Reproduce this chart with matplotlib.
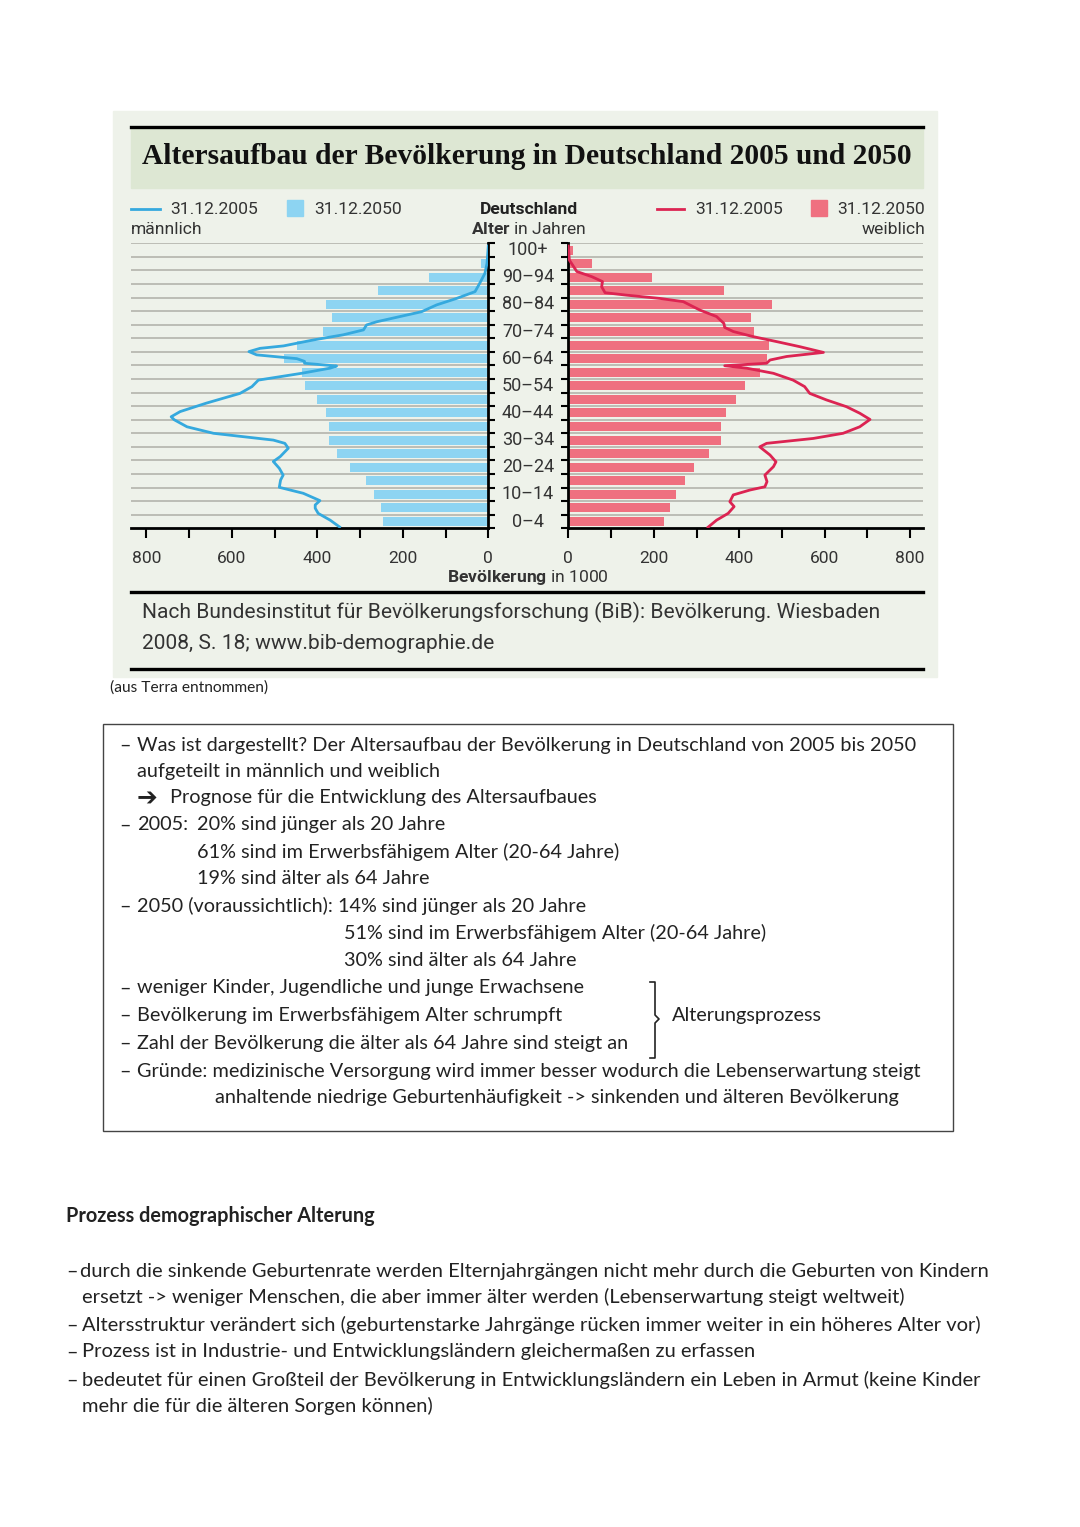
import matplotlib
matplotlib.use("Agg")
import matplotlib.pyplot as plt
from matplotlib import font_manager
from matplotlib.lines import Line2D
from matplotlib.patches import Rectangle

# --- data (population per single year of age, in 1000) ---
age_groups = ["0–4", "5–9", "10–14", "15–19", "20–24", "25–29", "30–34", "35–39",
              "40–44", "45–49", "50–54", "55–59", "60–64", "65–69", "70–74",
              "75–79", "80–84", "85–89", "90–94", "95–99", "100+"]
group_start = [0, 5, 10, 15, 20, 25, 30, 35, 40, 45, 50, 55, 60, 65, 70, 75, 80, 85, 90, 95, 100]
male_2050 = [246, 252, 267, 287, 324, 353, 372, 372, 380, 401, 429, 437, 478, 448,
             386, 365, 380, 259, 139, 18, 2]
female_2050 = [224, 238, 251, 272, 294, 329, 357, 357, 370, 392, 413, 448, 465, 470,
               434, 427, 477, 364, 195, 55, 12]

male_2005_age = [0.5, 3, 5.5, 7.4, 8.6, 10.2, 12.9, 15.1, 17.8, 19.6, 22.1, 24.6, 26.4,
                 29.5, 31.3, 32.5, 35, 37.4, 40, 41.1, 43, 46.1, 49.7, 52.2, 54.6, 57.1,
                 59, 59.8, 60.8, 61.5, 62.5, 63.9, 65.1, 66.3, 67.2, 69.4, 71.3, 73.1,
                 74.9, 76.1, 78, 79.8, 82.3, 84.7, 87.2, 90.3, 93.9, 97.6, 104]
male_2005 = [348, 370, 398, 405, 405, 394, 433, 489, 486, 480, 489, 503, 487,
             468, 476, 503, 643, 705, 735, 742, 721, 660, 581, 553, 538, 437,
             370, 355, 430, 430, 448, 542, 560, 534, 479, 409, 339, 292,
             285, 261, 207, 156, 121, 74, 31, 20, 8, 3, 0]

female_2005_age = [0.4, 3, 5.5, 8, 9.8, 12.3, 14.1, 15.3, 17.2, 19.6, 22.7, 24.5, 27,
                   30, 31.3, 33.1, 35, 37.4, 40.1, 42.4, 44.8, 47.3, 49.7, 52.2, 54.6,
                   57.1, 59, 59.9, 60.8, 62, 63.3, 64.8, 66.9, 68.8, 70.6, 72.5, 74,
                   75.5, 78, 80.4, 83.5, 84.7, 85.9, 86.8, 89, 90.9, 92.7, 94.6, 98.8, 104]
female_2005 = [327, 347, 374, 388, 378, 386, 425, 460, 465, 460, 480, 486, 472,
               448, 464, 573, 643, 682, 706, 682, 651, 604, 565, 553, 526,
               480, 417, 366, 464, 472, 511, 597, 542, 487, 433, 386, 366,
               364, 347, 308, 269, 214, 136, 86, 78, 80, 55, 20, 2.5, 0]

x_ticks = [0, 100, 200, 300, 400, 500, 600, 700, 800]
x_ticklabels = ["0", "", "200", "", "400", "", "600", "", "800"]

box_lines = [
    ("–", "Was ist dargestellt? Der Altersaufbau der Bevölkerung in Deutschland von 2005 bis 2050", 137),
    ("", "aufgeteilt in männlich und weiblich", 137),
    ("", "Prognose für die Entwicklung des Altersaufbaues", 170),
    ("–", "2005:", 137),
    ("", "61% sind im Erwerbsfähigem Alter (20-64 Jahre)", 197),
    ("", "19% sind älter als 64 Jahre", 197),
    ("–", "2050 (voraussichtlich): 14% sind jünger als 20 Jahre", 137),
    ("", "51% sind im Erwerbsfähigem Alter (20-64 Jahre)", 344),
    ("", "30% sind älter als 64 Jahre", 344),
    ("–", "weniger Kinder, Jugendliche und junge Erwachsene", 137),
    ("–", "Bevölkerung im Erwerbsfähigem Alter schrumpft", 137),
    ("–", "Zahl der Bevölkerung die älter als 64 Jahre sind steigt an", 137),
    ("–", "Gründe: medizinische Versorgung wird immer besser wodurch die Lebenserwartung steigt", 137),
    ("", "anhaltende niedrige Geburtenhäufigkeit -> sinkenden und älteren Bevölkerung", 215),
]
box_y = [745, 771, 798, 825, 852, 879, 906, 933, 960, 988, 1015, 1043, 1071, 1097]

bottom_lines = [
    ("–", "durch die sinkende Geburtenrate werden Elternjahrgängen nicht mehr durch die Geburten von Kindern"),
    ("", "ersetzt -> weniger Menschen, die aber immer älter werden (Lebenserwartung steigt weltweit)"),
    ("–", "Altersstruktur verändert sich (geburtenstarke Jahrgänge rücken immer weiter in ein höheres Alter vor)"),
    ("–", "Prozess ist in Industrie- und Entwicklungsländern gleichermaßen zu erfassen"),
    ("–", "bedeutet für einen Großteil der Bevölkerung in Entwicklungsländern ein Leben in Armut (keine Kinder"),
    ("", "mehr die für die älteren Sorgen können)"),
]
bottom_y = [1271, 1297, 1325, 1352, 1380, 1406]

# --- colours / fonts ---
BG = "#eef2ea"
BAND = "#dde7d3"
BLUE_BAR = "#8dd4f2"
BLUE_LINE = "#35a9de"
RED_BAR = "#ef7080"
RED_LINE = "#dc2452"
GRID = "#b8b9b1"
TXT = "#222222"

names = {f.name for f in font_manager.fontManager.ttflist}
NARROW = "Liberation Sans Narrow" if "Liberation Sans Narrow" in names else "Roboto"
BODY = "Lato"
plt.rcParams["mathtext.fontset"] = "custom"
plt.rcParams["mathtext.bf"] = NARROW + ":bold"
plt.rcParams["mathtext.rm"] = NARROW

W, H = 1080, 1527
fig = plt.figure(figsize=(W / 100, H / 100), dpi=100)
fig.patch.set_facecolor("white")
renderer = fig.canvas.get_renderer()


def fx(x):
    return x / W


def fy(y):
    return 1 - y / H


def txt(x, y, s, **kw):
    kw.setdefault("color", TXT)
    return fig.text(fx(x), fy(y), s, **kw)


def fit(t, width):
    w = t.get_window_extent(renderer).width
    t.set_fontsize(t.get_fontsize() * width / w)
    return t.get_fontsize()


def hline(x0, x1, y, lw, color="black"):
    fig.add_artist(Line2D([fx(x0), fx(x1)], [fy(y), fy(y)], lw=lw, color=color,
                          transform=fig.transFigure))


# panel background and title band
fig.add_artist(Rectangle((fx(113), fy(677)), fx(937) - fx(113), fy(111) - fy(677),
                         transform=fig.transFigure, color=BG, zorder=0))
fig.add_artist(Rectangle((fx(131), fy(188)), fx(923) - fx(131), fy(128) - fy(188),
                         transform=fig.transFigure, color=BAND, zorder=0))
hline(131, 923, 127, 2.4)
hline(131, 923, 592, 2.4)
hline(131, 923, 669, 2.4)

t = txt(527, 156, "Altersaufbau der Bevölkerung in Deutschland 2005 und 2050",
        family="Liberation Serif", weight="bold", fontsize=20, ha="center", va="center",
        color="#111111")
fit(t, 771)

# legend
fig.add_artist(Line2D([fx(131), fx(160)], [fy(209), fy(209)], lw=2, color=BLUE_LINE,
                      transform=fig.transFigure))
fig.add_artist(Rectangle((fx(287), fy(216)), fx(16), fx(16) * W / H,
                         transform=fig.transFigure, color=BLUE_BAR))
fig.add_artist(Line2D([fx(657), fx(684)], [fy(209), fy(209)], lw=2, color=RED_LINE,
                      transform=fig.transFigure))
fig.add_artist(Rectangle((fx(811), fy(216)), fx(16), fx(16) * W / H,
                         transform=fig.transFigure, color=RED_BAR))
leg = dict(family=NARROW, fontsize=12.6, va="center", color="#333333")
txt(170, 209, "31.12.2005", **leg)
txt(314, 209, "31.12.2050", **leg)
txt(695, 209, "31.12.2005", **leg)
txt(925, 209, "31.12.2050", ha="right", **leg)
txt(131, 229, "männlich", **leg)
txt(925, 229, "weiblich", ha="right", **leg)
txt(529, 209, "Deutschland", family=NARROW, fontsize=12.6, weight="bold", ha="center",
    va="center", color="#222222")
txt(529, 229, r"$\bf{Alter}$ in Jahren", family=NARROW, fontsize=12.6, ha="center",
    va="center", color="#333333")

# pyramid axes
y_top, y_bot = 243.3, 528.3
axl = fig.add_axes([fx(131), fy(y_bot), fx(488.3) - fx(131), (y_bot - y_top) / H])
axr = fig.add_axes([fx(568.3), fy(y_bot), fx(923) - fx(568.3), (y_bot - y_top) / H])

for ax, bars, line_age, line_val, bc, lc, side in [
        (axl, male_2050, male_2005_age, male_2005, BLUE_BAR, BLUE_LINE, "right"),
        (axr, female_2050, female_2005_age, female_2005, RED_BAR, RED_LINE, "left")]:
    ax.set_facecolor("none")
    ax.hlines(range(5, 106, 5), 0, 900, color=GRID, lw=1.3, zorder=1)
    ax.barh([s + 2.5 for s in group_start], bars, height=3.3, color=bc, zorder=2)
    ax.plot(line_val, line_age, color=lc, lw=2, zorder=3, solid_joinstyle="round")
    ax.set_ylim(0, 105)
    for s in ax.spines.values():
        s.set_visible(False)
    ax.spines["bottom"].set_visible(True)
    ax.spines[side].set_visible(True)
    ax.spines["bottom"].set_linewidth(2)
    ax.spines[side].set_linewidth(2)
    ax.set_xticks(x_ticks)
    ax.set_xticklabels(x_ticklabels, family=NARROW, fontsize=12.5, color="#333333")
    ax.tick_params(axis="x", direction="out", length=7, width=1.5, pad=9)
    ax.set_yticks(range(0, 106, 5))
    ax.set_yticklabels([])
    ax.tick_params(axis="y", direction="out", length=5, width=1.5)
    if side == "right":
        ax.yaxis.tick_right()
    else:
        ax.yaxis.tick_left()

axl.set_xlim(836, 0)
axr.set_xlim(0, 830)

# age labels in the middle
for i in range(0, 21, 2):
    y = y_bot - (group_start[i] + 2.5) * (y_bot - y_top) / 105
    txt(528, y, age_groups[i], family=NARROW, fontsize=13, ha="center", va="center",
        color="#333333")

txt(528, 577, r"$\bf{Bevölkerung}$ in 1000", family=NARROW, fontsize=12.6, ha="center",
    va="center", color="#333333")

# source
t = txt(142, 612, "Nach Bundesinstitut für Bevölkerungsforschung (BiB): Bevölkerung. Wiesbaden",
        family=NARROW, fontsize=16, va="center", color="#333333")
src_size = fit(t, 737)
txt(142, 644, "2008, S. 18; www.bib-demographie.de", family=NARROW, fontsize=src_size,
    va="center", color="#333333")

txt(110, 688, "(aus Terra entnommen)", family=BODY, fontsize=11.2, va="center")

# text box
fig.add_artist(Rectangle((fx(103), fy(1131)), fx(953) - fx(103), fy(724) - fy(1131),
                         transform=fig.transFigure, fill=False, ec="#444444", lw=1))
t = txt(137, box_y[0], box_lines[0][1], family=BODY, fontsize=14, va="center")
box_size = fit(t, 781)
for (dash, line, x), y in zip(box_lines[1:], box_y[1:]):
    txt(x, y, line, family=BODY, fontsize=box_size, va="center")
for (dash, line, x), y in zip(box_lines, box_y):
    if dash:
        txt(119, y, dash, family=BODY, fontsize=box_size, va="center")
txt(137, box_y[2], "➔", family=["DejaVu Sans"], fontsize=box_size * 1.25, va="center",
    weight="bold")
txt(197, box_y[3], "20% sind jünger als 20 Jahre", family=BODY, fontsize=box_size,
    va="center")
txt(672, 1016, "Alterungsprozess", family=BODY, fontsize=box_size, va="center")
fig.add_artist(Line2D([fx(650), fx(655), fx(655), fx(659), fx(655), fx(655), fx(650)],
                      [fy(982), fy(982), fy(1015), fy(1019), fy(1023), fy(1058), fy(1058)],
                      lw=1.2, color=TXT, transform=fig.transFigure))

# bottom section
txt(66, 1216, "Prozess demographischer Alterung", family=BODY, weight="bold",
    fontsize=box_size, va="center")
t = txt(80, bottom_y[0], bottom_lines[0][1], family=BODY, fontsize=14, va="center")
bot_size = fit(t, 915)
for (dash, line), y in zip(bottom_lines[1:], bottom_y[1:]):
    txt(82, y, line, family=BODY, fontsize=bot_size, va="center")
for (dash, line), y in zip(bottom_lines, bottom_y):
    if dash:
        txt(66, y, dash, family=BODY, fontsize=bot_size, va="center")

fig.savefig("out.png", dpi=100, facecolor="white")
